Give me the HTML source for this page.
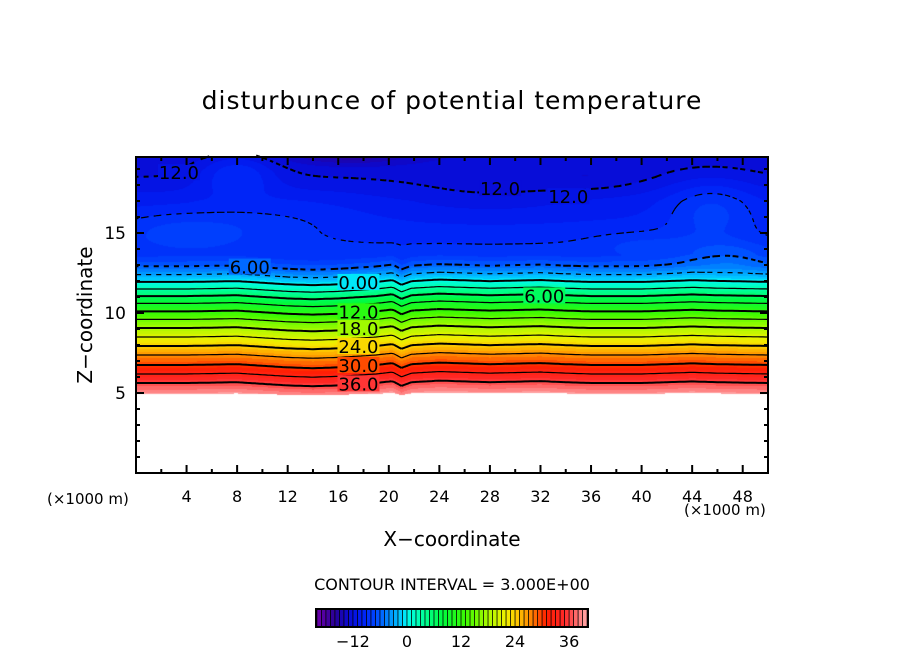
<!DOCTYPE html>
<html><head><meta charset="utf-8"><style>
body{margin:0;background:#fff;width:904px;height:654px;overflow:hidden;position:relative;font-family:"DejaVu Sans","Liberation Sans",sans-serif}
.t{position:absolute;color:#000;white-space:nowrap}
</style></head><body>
<div class="t" style="left:0;width:904px;text-align:center;top:86px;font-size:25px;letter-spacing:1px">disturbunce of potential temperature</div>
<div class="t" style="left:85px;top:315px;font-size:20px;transform:translate(-50%,-50%) rotate(-90deg)">Z−coordinate</div>
<div class="t" style="left:0;width:904px;text-align:center;top:527px;font-size:20px">X−coordinate</div>
<div class="t" style="left:47px;top:490px;font-size:15px">(×1000 m)</div>
<div class="t" style="left:684px;top:501px;font-size:15px">(×1000 m)</div>
<div class="t" style="left:0;width:904px;text-align:center;top:575px;font-size:16px">CONTOUR INTERVAL = 3.000E+00</div>
<canvas id="field" width="632" height="316" style="position:absolute;left:136px;top:157px"></canvas>
<svg id="svg" width="904" height="654" style="position:absolute;left:0;top:0"></svg>
<script>
// vertical base profile (z in km, value)
const zProfile=[5,5.625,6.19,6.75,7.375,7.94,8.5,9.06,9.6,10.1,10.6,11.06,11.5,11.94,12.4,12.9,13.6,15,17,18.5,20];
const vProfile=[39,36,33,30,27,24,21,18,15,12,9,6,3,0,-3,-6,-8.5,-9.5,-10.5,-12,-13];
// horizontal displacement of the layers
const xOff=[0,4,8,10,12,14,16,19,20.3,21,21.8,24,28,32,34,36,40,44,46,50];
const dzOff=[0,0,0.05,-0.05,-0.15,-0.2,-0.15,0,0.12,-0.18,0.05,0.15,0.05,0.12,0.05,0,0,0.1,0.05,0];
// anomalies in upper layer
const blobX=[8,4,45.5,47,17,28,40,36,12];
const blobZ=[18.7,15.2,16.5,13.6,19.9,17.3,14.3,18.4,16];
const blobAmp=[3,2,2.5,2,-3,-1,1.2,-0.8,0.8];
const blobRx=[3,6,3.5,3.5,4.5,8,4,4,6];
const blobRz=[1.3,1.2,2,0.9,0.6,1.5,0.8,0.8,1.5];
const levels=[];for(let v=-12;v<=36;v+=3)levels.push(v);
const labelText=["12.0","6.00","0.00","12.0","18.0","24.0","30.0","36.0","6.00","12.0","12.0"];
const labelX=[3.4,9.0,17.6,17.6,17.6,17.6,17.6,17.6,32.3,28.8,34.2];
const labelZ=[18.8,12.9,11.94,10.1,9.06,7.94,6.75,5.6,11.1,17.8,17.3];
const cbTicks=[-12,0,12,24,36];

const X0=136,X1=768,Y0=157,Y1=473,XMAX=50,ZTOP=19.8;
const sx=x=>X0+x*(X1-X0)/XMAX, sz=z=>Y1-z*16;
function interp(xs,ys,x){if(x<=xs[0])return ys[0];for(let i=1;i<xs.length;i++)if(x<=xs[i]){const t=(x-xs[i-1])/(xs[i]-xs[i-1]);return ys[i-1]+t*(ys[i]-ys[i-1]);}return ys[ys.length-1];}
function field(x,z){
  if(z<5+interp(xOff,dzOff,x)*0.4-0.05)return NaN;
  const w=z<13.5?1:Math.max(0,1-(z-13.5)/1.5);
  const zz=z-interp(xOff,dzOff,x)*w;
  let v=interp(zProfile,vProfile,zz);
  for(let i=0;i<blobX.length;i++){const dx=(x-blobX[i])/blobRx[i],dz=(z-blobZ[i])/blobRz[i];v+=blobAmp[i]*Math.exp(-(dx*dx+dz*dz));}
  return v;
}
const cs=[[-20,110,0,170],[-16,40,0,150],[-13,10,10,210],[-10,0,30,245],[-7,0,70,255],[-4,0,140,255],[-1,0,210,255],[0,0,250,240],[3,0,255,170],[8,0,250,60],[13,60,250,0],[18,170,250,0],[22,240,240,0],[25,255,190,0],[28,255,120,0],[31,255,30,0],[35,255,40,40],[40,255,170,170]];
function col(v){v=Math.floor(v)+0.5;if(v<=cs[0][0])return cs[0].slice(1);for(let i=1;i<cs.length;i++)if(v<=cs[i][0]){const a=cs[i-1],b=cs[i],t=(v-a[0])/(b[0]-a[0]);return [0,1,2].map(k=>Math.round(a[k+1]+t*(b[k+1]-a[k+1])));}return cs[cs.length-1].slice(1);}
const cv=document.getElementById('field'),ctx=cv.getContext('2d'),img=ctx.createImageData(632,316);
for(let py=0;py<316;py++)for(let px=0;px<632;px++){const x=(px+0.5)*XMAX/632,z=(Y1-(Y0+py+0.5))/16;const v=field(x,z);const o=(py*632+px)*4;
 if(isNaN(v)){img.data[o]=img.data[o+1]=img.data[o+2]=255;}else{const c=col(v);img.data[o]=c[0];img.data[o+1]=c[1];img.data[o+2]=c[2];}img.data[o+3]=255;}
ctx.putImageData(img,0,0);
const NS='http://www.w3.org/2000/svg',svg=document.getElementById('svg');
function el(t,a,p){const e=document.createElementNS(NS,t);for(const k in a)e.setAttribute(k,a[k]);(p||svg).appendChild(e);return e;}
const dx=0.2,dzs=0.08,nx=Math.round(XMAX/dx),nz=Math.round((ZTOP-4.8)/dzs);
const G=[];for(let j=0;j<=nz;j++){G.push([]);for(let i=0;i<=nx;i++)G[j].push(field(i*dx,4.8+j*dzs));}
levels.forEach(L=>{let d='';
 for(let j=0;j<nz;j++)for(let i=0;i<nx;i++){const c=[G[j][i],G[j][i+1],G[j+1][i+1],G[j+1][i]];if(c.some(isNaN))continue;
  const p=[[i,j],[i+1,j],[i+1,j+1],[i,j+1]];const pts=[];
  for(let k=0;k<4;k++){const a=c[k],b=c[(k+1)%4];if((a<L)!==(b<L)){const t=(L-a)/(b-a);const A=p[k],B=p[(k+1)%4];pts.push([(A[0]+t*(B[0]-A[0]))*dx,4.8+(A[1]+t*(B[1]-A[1]))*dzs]);}}
  for(let k=0;k+1<pts.length;k+=2){const x1=sx(pts[k][0]),y1=sz(pts[k][1]),x2=sx(pts[k+1][0]),y2=sz(pts[k+1][1]);
   if(L<0){const m=((x1+x2)/2+(y1+y2)/2)%10;if(m>6)continue;}
   d+=`M${x1.toFixed(1)} ${y1.toFixed(1)}L${x2.toFixed(1)} ${y2.toFixed(1)}`;}}
 const path=el('path',{d:d,fill:'none',stroke:'#000','stroke-width':(L%6===0)?2:1.2});
 
 
});
labelText.forEach((s,i)=>{const x=sx(labelX[i]),y=sz(labelZ[i]);
 const c=col(field(labelX[i],labelZ[i]));
 el('rect',{x:x-21,y:y-8,width:42,height:16,fill:`rgb(${c.join(',')})`});
 const t=el('text',{x:x,y:y+7,'text-anchor':'middle','font-size':18,'font-family':'DejaVu Sans, Liberation Sans, sans-serif'});t.textContent=s;
 
 
});
el('rect',{x:X0,y:Y0,width:X1-X0,height:Y1-Y0,fill:'none',stroke:'#000','stroke-width':2});
for(let x=2;x<XMAX;x+=2){const L=x%4===0?8:4;el('line',{x1:sx(x),x2:sx(x),y1:Y1,y2:Y1-L,stroke:'#000','stroke-width':2});el('line',{x1:sx(x),x2:sx(x),y1:Y0,y2:Y0+L,stroke:'#000','stroke-width':2});
 if(x%4===0){const t=el('text',{x:sx(x),y:502,'text-anchor':'middle','font-size':16,'font-family':'DejaVu Sans, sans-serif'});t.textContent=x;
 
 }}
for(let z=1;z<20;z++){const L=z%5===0?8:4;el('line',{x1:X0,x2:X0+L,y1:sz(z),y2:sz(z),stroke:'#000','stroke-width':2});el('line',{x1:X1,x2:X1-L,y1:sz(z),y2:sz(z),stroke:'#000','stroke-width':2});
 if(z%5===0){const t=el('text',{x:126,y:sz(z)+6,'text-anchor':'end','font-size':17,'font-family':'DejaVu Sans, sans-serif'});t.textContent=z;
 
 }}
const CB0=316,CB1=588,V0=-20.2,V1=40.2,cbx=v=>CB0+(v-V0)*(CB1-CB0)/(V1-V0);
for(let v=-21;v<41;v++){const a=Math.max(CB0,cbx(v)),b=Math.min(CB1,cbx(v+1));if(b<=a)continue;const c=col(v+0.5);
 const r=el('rect',{x:a,y:609,width:b-a,height:18,fill:`rgb(${c.join(',')})`});
 
 
 el('line',{x1:a,x2:a,y1:609,y2:627,stroke:'#000','stroke-width':0.8});}
el('rect',{x:CB0,y:609,width:CB1-CB0,height:18,fill:'none',stroke:'#000','stroke-width':2});
cbTicks.forEach(v=>{const t=el('text',{x:cbx(v),y:647,'text-anchor':'middle','font-size':16,'font-family':'DejaVu Sans, sans-serif'});t.textContent=v<0?'−'+(-v):v;
 
 });
</script>
</body></html>
